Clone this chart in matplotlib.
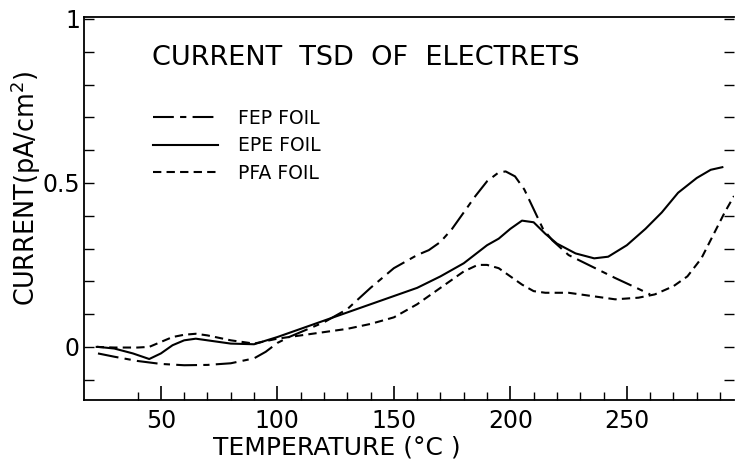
import matplotlib
matplotlib.use("Agg")
import matplotlib.pyplot as plt
from matplotlib.ticker import MultipleLocator, FixedLocator

fep_x = [23, 30, 40, 50, 60, 70, 80, 90, 95, 100, 105, 110, 120, 130, 140, 150, 160, 165, 170, 175, 180, 185, 190, 195, 198, 202, 206, 210, 214, 218, 225, 235, 245, 255, 260]
fep_y = [-0.02, -0.03, -0.043, -0.052, -0.056, -0.055, -0.05, -0.035, -0.015, 0.012, 0.03, 0.045, 0.075, 0.115, 0.18, 0.24, 0.28, 0.295, 0.32, 0.36, 0.41, 0.46, 0.505, 0.532, 0.535, 0.52, 0.48, 0.42, 0.36, 0.325, 0.28, 0.245, 0.21, 0.177, 0.16]

epe_x = [23, 30, 38, 45, 50, 55, 60, 65, 70, 80, 90, 100, 110, 120, 130, 140, 150, 160, 170, 180, 190, 195, 200, 205, 210, 215, 220, 228, 236, 242, 250, 258, 265, 272, 280, 286, 291]
epe_y = [0.0, -0.005, -0.02, -0.037, -0.02, 0.005, 0.02, 0.025, 0.02, 0.01, 0.008, 0.03, 0.055, 0.08, 0.105, 0.13, 0.155, 0.18, 0.215, 0.255, 0.31, 0.33, 0.36, 0.385, 0.38, 0.345, 0.315, 0.285, 0.27, 0.275, 0.31, 0.36, 0.41, 0.47, 0.515, 0.54, 0.548]

pfa_x = [22, 30, 40, 45, 50, 55, 60, 65, 70, 80, 90, 100, 105, 110, 120, 130, 140, 150, 160, 170, 180, 186, 190, 195, 200, 205, 210, 215, 225, 235, 245, 255, 262, 270, 276, 282, 287, 292, 296]
pfa_y = [0.0, -0.002, -0.002, 0.0, 0.015, 0.03, 0.037, 0.04, 0.035, 0.02, 0.01, 0.025, 0.03, 0.035, 0.045, 0.055, 0.07, 0.09, 0.13, 0.18, 0.23, 0.25, 0.25, 0.24, 0.215, 0.19, 0.17, 0.165, 0.165, 0.155, 0.145, 0.15, 0.16, 0.185, 0.215, 0.27, 0.34, 0.41, 0.46]

series_labels = ["FEP FOIL", "EPE FOIL", "PFA FOIL"]
x_major = [50, 100, 150, 200, 250]
y_major = [0, 0.5, 1]
y_major_labels = ["0", "0.5", "1"]

plt.rcParams['font.family'] = ['DejaVu Sans']
fig = plt.figure(figsize=(7.35, 4.59), dpi=100)
ax = fig.add_axes([84/735, 1 - 400/459, 650/735, 383/459])

lw = 1.5
ax.plot(fep_x, fep_y, color='black', lw=lw, dashes=(10, 3, 3, 3), label=series_labels[0])
ax.plot(epe_x, epe_y, color='black', lw=lw, label=series_labels[1])
ax.plot(pfa_x, pfa_y, color='black', lw=lw, dashes=(4, 2.5), label=series_labels[2])

ax.set_xlim(17, 296)
ax.set_ylim(-0.162, 1.006)

ax.xaxis.set_major_locator(FixedLocator(x_major))
ax.xaxis.set_minor_locator(FixedLocator(list(range(40, 300, 10))))
ax.set_xticklabels([str(v) for v in x_major])
ax.yaxis.set_major_locator(FixedLocator(y_major))
ax.set_yticklabels(y_major_labels)
ax.yaxis.set_minor_locator(MultipleLocator(0.1))

ax.tick_params(axis='x', which='major', direction='in', length=10, width=1.2, labelsize=17, pad=6.5)
ax.tick_params(axis='x', which='minor', direction='in', length=6, width=1.0)
ax.tick_params(axis='y', which='major', direction='in', length=7, width=1.0, labelsize=17, pad=3, right=True)
ax.tick_params(axis='y', which='minor', direction='in', length=7, width=1.0, right=True)

for s in ['left', 'bottom', 'top']:
    ax.spines[s].set_linewidth(1.3)
ax.spines['right'].set_visible(False)

fig.text(337/735, 1 - 448/459, "TEMPERATURE (°C )", fontsize=18, ha='center', va='center')
fig.text(26/735, 1 - 188/459, "CURRENT(pA/cm$^2$)", fontsize=18.4, rotation=90,
         ha='center', va='center')

fig.text(152/735, 1 - 58/459, "CURRENT  TSD  OF  ELECTRETS",
         fontsize=19.5, va='center', ha='left')

leg = ax.legend(loc='upper left', bbox_to_anchor=((153 - 84)/650, 1 - (109 - 17)/383), frameon=False,
                fontsize=13.5, handlelength=3.47, handletextpad=1.07, labelspacing=0.45,
                borderaxespad=0, borderpad=0)

fig.savefig("out.png", dpi=100)
